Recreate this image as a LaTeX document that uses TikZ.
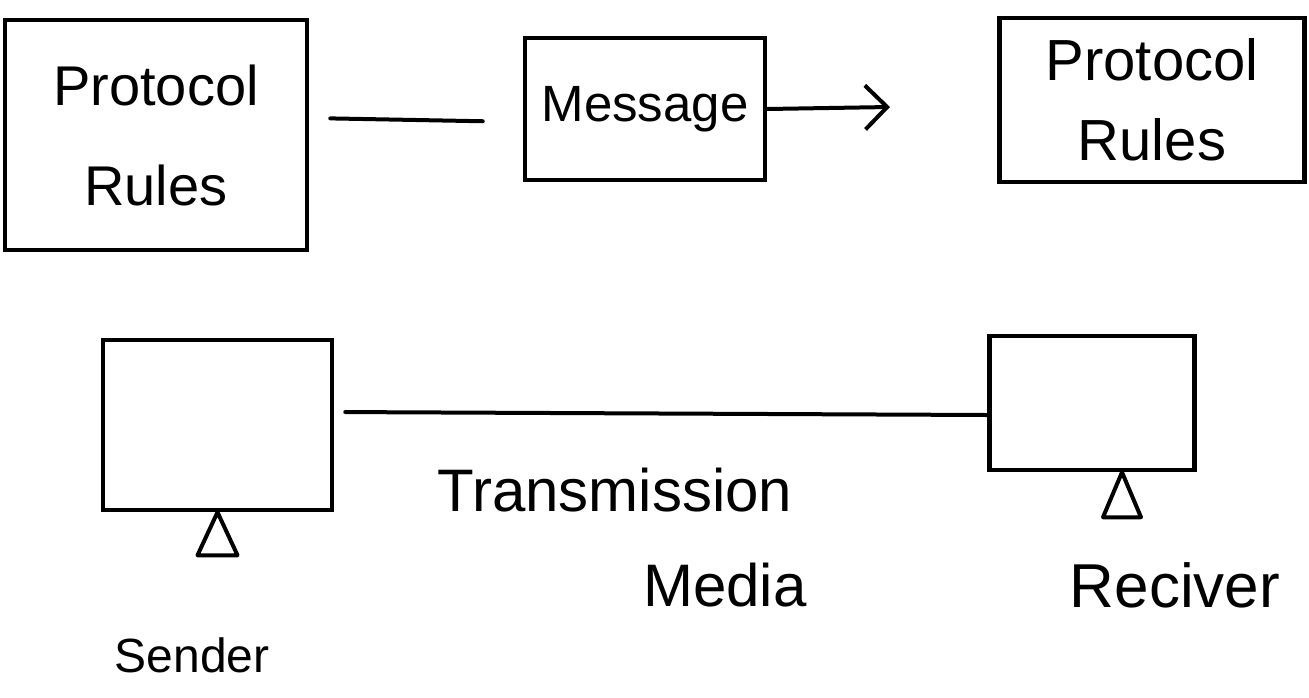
\documentclass[tikz,border=0pt]{standalone}
\usepackage{fontspec}
\setmainfont{Liberation Sans}
\usetikzlibrary{arrows.meta,calc}
\begin{document}
\begin{tikzpicture}[x=1pt,y=-1pt,
  hbox/.style={draw, line width=4.5pt, inner sep=0pt, align=center},
  link/.style={line width=4pt, line cap=round},
  lbl/.style={inner sep=0pt, font=\fontsize{60}{60}\selectfont}]
\useasboundingbox (0,0) rectangle (1309,697);
\node[hbox, minimum width=302, minimum height=230, font=\fontsize{56}{100}\selectfont] (pr1) at (156,135) {Protocol\\Rules};
\node[hbox, minimum width=240, minimum height=142, font=\fontsize{51}{51}\selectfont] (msg) at (645,109) {Message};
\node[hbox, minimum width=305, minimum height=164, font=\fontsize{58}{80}\selectfont] (pr2) at (1152,100) {Protocol\\Rules};
\node[hbox, minimum width=229, minimum height=170] (snd) at (217.5,425) {};
\node[hbox, minimum width=205, minimum height=134] (rcv) at (1092,403) {};
\coordinate (sig) at (890,107);
\draw[link, shorten <=21pt, shorten >=40pt] ($(pr1.east)+(0,-17)$) -- ($(msg.west)+(0,13)$);
\draw[link, -{Straight Barb[length=22pt,width=44pt,line width=4pt]}] (msg.east) -- (sig);
\draw[link, shorten <=11pt] ($(snd.east)+(0,-13)$) -- ($(rcv.west)+(0,12)$);
\draw[link, line join=round] (snd.south) -- ++(-20,43) -- ++(40,0) -- cycle;
\draw[link, line join=round] ($(rcv.south)+(30,0)$) -- ++(-19,45) -- ++(38,0) -- cycle;
\node[lbl] (tx) at (615,490) {Transmission};
\node[lbl] (md) at (725,585) {Media};
\node[lbl, font=\fontsize{48}{48}\selectfont] (sl) at (192,655) {Sender};
\node[lbl, font=\fontsize{62}{62}\selectfont] (rl) at (1175,585) {Reciver};
\end{tikzpicture}
\end{document}
